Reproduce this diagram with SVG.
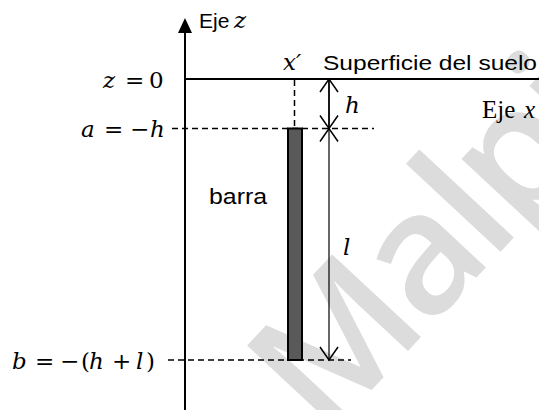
<svg xmlns="http://www.w3.org/2000/svg" width="539" height="410" viewBox="0 0 539 410">
<style>
.sans{font-family:"Liberation Sans",Arial,sans-serif;fill:#000}
.math{font-family:"DejaVu Serif","Liberation Serif",serif;font-size:23px;fill:#000}
.serif{font-family:"Liberation Serif","Times New Roman",serif;fill:#000}
.it{font-style:italic}
.solid{stroke:#000;fill:none}
.dash{stroke:#000;stroke-width:1.5;stroke-dasharray:6 4;fill:none}
.wm{font-family:"Open Sans","Liberation Sans",sans-serif;font-weight:600;fill:#dcdcdc}
</style>
<defs>
<marker id="open" markerUnits="userSpaceOnUse" markerWidth="16" markerHeight="22" refX="14" refY="11" orient="auto-start-reverse">
<path d="M1,2 L14,11 L1,20" fill="none" stroke="#000" stroke-width="1.5"/>
</marker>
</defs>
<rect width="539" height="410" fill="#fff"/>
<g id="watermark">
<text class="wm" font-size="170" letter-spacing="-6" transform="translate(325,440) rotate(-47)">Malpi</text>
</g>
<g id="connectors">
<line class="dash" x1="172" y1="128.5" x2="374" y2="128.5"/>
<line class="dash" x1="168" y1="360" x2="351" y2="360"/>
<line class="dash" x1="294.5" y1="80" x2="294.5" y2="128"/>
<line class="solid" stroke-width="1.8" x1="329" y1="79" x2="329" y2="128.5" marker-start="url(#open)" marker-end="url(#open)"/>
<line class="solid" stroke-width="1.2" x1="329" y1="128.5" x2="329" y2="360" marker-start="url(#open)" marker-end="url(#open)"/>
</g>
<g id="axis-z">
<line class="solid" stroke-width="2" x1="185" y1="30" x2="185" y2="410"/>
<polygon points="185,18 178,33 192,33" fill="#000"/>
<text class="sans" font-size="21" x="199" y="28">Eje</text>
<text class="math it" x="234" y="28">z</text>
</g>
<g id="surface">
<line class="solid" stroke-width="2" x1="185" y1="79" x2="539" y2="79"/>
<text class="sans" font-size="21" x="323" y="70" textLength="214" lengthAdjust="spacingAndGlyphs">Superficie del suelo</text>
</g>
<g id="x-prime">
<text class="math it" x="283" y="70">x′</text>
</g>
<g id="eje-x">
<text class="serif" font-size="25" x="482" y="118">Eje <tspan class="it" x="524">x</tspan></text>
</g>
<g id="bar">
<rect x="288" y="128.5" width="14" height="231.5" fill="#595959" stroke="#000" stroke-width="2"/>
<text class="sans" font-size="22" x="209" y="204" textLength="58" lengthAdjust="spacingAndGlyphs">barra</text>
</g>
<g id="label-z0">
<text class="math"><tspan class="it" x="103" y="88">z</tspan><tspan x="125" y="88">=</tspan><tspan x="149" y="88">0</tspan></text>
</g>
<g id="label-a">
<text class="math"><tspan class="it" x="81" y="137">a</tspan><tspan x="104" y="137">=</tspan><tspan x="130" y="137">−</tspan><tspan class="it" x="150" y="137">h</tspan></text>
</g>
<g id="label-b">
<text class="math"><tspan class="it" x="12" y="369">b</tspan><tspan x="35" y="369">=</tspan><tspan x="60" y="369">−</tspan><tspan x="81" y="369">(</tspan><tspan class="it" x="89" y="369">h</tspan><tspan x="112" y="369">+</tspan><tspan class="it" x="136" y="369">l</tspan><tspan x="146" y="369">)</tspan></text>
</g>
<g id="label-h">
<text class="math it" x="345" y="113">h</text>
</g>
<g id="label-l">
<text class="math it" x="343" y="255">l</text>
</g>
</svg>
